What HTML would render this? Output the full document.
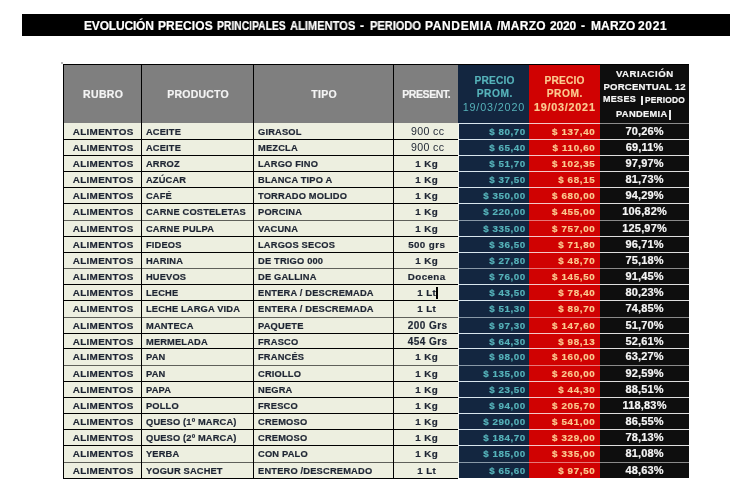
<!DOCTYPE html><html><head><meta charset="utf-8"><style>
*{margin:0;padding:0;box-sizing:border-box}
html,body{width:752px;height:499px;background:#fff;overflow:hidden}
body{position:relative;font-family:"Liberation Sans",sans-serif}
.a{position:absolute}
.t{position:absolute;white-space:nowrap;line-height:1;will-change:transform}
.b{font-weight:bold;-webkit-text-stroke:0.2px currentColor}
.c{text-align:center}
.r{text-align:right}

</style></head><body>
<div class="a" style="left:22px;top:14px;width:708px;height:22px;background:#000"></div>
<div class="t b" style="left:83.99px;top:19.69px;font-size:12px;color:#fff;letter-spacing:-0.178px">EVOLUCIÓN</div>
<div class="t b" style="left:158.19px;top:19.69px;font-size:12px;color:#fff;letter-spacing:0.110px">PRECIOS</div>
<div class="t b" style="left:217.10px;top:19.69px;font-size:12px;color:#fff;transform:scaleX(0.8610);transform-origin:0 0">PRINCIPALES</div>
<div class="t b" style="left:289.72px;top:19.69px;font-size:12px;color:#fff;transform:scaleX(0.9270);transform-origin:0 0">ALIMENTOS</div>
<div class="t b" style="left:359.52px;top:19.69px;font-size:12px;color:#fff;letter-spacing:0.000px">-</div>
<div class="t b" style="left:369.75px;top:19.69px;font-size:12px;color:#fff;transform:scaleX(0.9217);transform-origin:0 0">PERIODO</div>
<div class="t b" style="left:424.59px;top:19.69px;font-size:12px;color:#fff;letter-spacing:0.631px">PANDEMIA</div>
<div class="t b" style="left:496.98px;top:19.69px;font-size:12px;color:#fff;letter-spacing:0.244px">/MARZO</div>
<div class="t b" style="left:549.88px;top:19.69px;font-size:12px;color:#fff;letter-spacing:-0.157px">2020</div>
<div class="t b" style="left:581.02px;top:19.69px;font-size:12px;color:#fff;letter-spacing:0.000px">-</div>
<div class="t b" style="left:590.59px;top:19.69px;font-size:12px;color:#fff;letter-spacing:0.110px">MARZO</div>
<div class="t b" style="left:638.08px;top:19.69px;font-size:12px;color:#fff;letter-spacing:0.660px">2021</div>
<div class="a" style="left:63px;top:64px;width:395px;height:59px;background:#7F7F7F"></div>
<div class="a" style="left:63px;top:123px;width:395px;height:355px;background:#EDEFE0"></div>
<div class="a" style="left:458px;top:64px;width:71px;height:414px;background:#132640"></div>
<div class="a" style="left:529px;top:64px;width:71px;height:414px;background:#D00202"></div>
<div class="a" style="left:600px;top:64px;width:89px;height:414px;background:#0E0E0E"></div>
<div class="a" style="left:459px;top:123px;width:70px;height:1px;background:rgb(216,230,238)"></div>
<div class="a" style="left:529px;top:123px;width:71px;height:1px;background:rgb(246,200,200)"></div>
<div class="a" style="left:600px;top:123px;width:89px;height:1px;background:rgb(140,140,140)"></div>
<div class="a" style="left:63px;top:139px;width:395px;height:1px;background:rgb(0,0,0)"></div>
<div class="a" style="left:459px;top:139px;width:70px;height:1px;background:rgb(216,230,238)"></div>
<div class="a" style="left:529px;top:139px;width:71px;height:1px;background:rgb(246,200,200)"></div>
<div class="a" style="left:600px;top:139px;width:89px;height:1px;background:rgb(222,222,222)"></div>
<div class="a" style="left:63px;top:155px;width:395px;height:1px;background:rgb(0,0,0)"></div>
<div class="a" style="left:459px;top:155px;width:70px;height:1px;background:rgb(216,230,238)"></div>
<div class="a" style="left:529px;top:155px;width:71px;height:1px;background:rgb(246,200,200)"></div>
<div class="a" style="left:600px;top:155px;width:89px;height:1px;background:rgb(222,222,222)"></div>
<div class="a" style="left:63px;top:171px;width:395px;height:1px;background:rgb(0,0,0)"></div>
<div class="a" style="left:459px;top:171px;width:70px;height:1px;background:rgb(216,230,238)"></div>
<div class="a" style="left:529px;top:171px;width:71px;height:1px;background:rgb(246,200,200)"></div>
<div class="a" style="left:600px;top:171px;width:89px;height:1px;background:rgb(222,222,222)"></div>
<div class="a" style="left:63px;top:187px;width:395px;height:1px;background:rgb(0,0,0)"></div>
<div class="a" style="left:459px;top:187px;width:70px;height:1px;background:rgb(216,230,238)"></div>
<div class="a" style="left:529px;top:187px;width:71px;height:1px;background:rgb(246,200,200)"></div>
<div class="a" style="left:600px;top:187px;width:89px;height:1px;background:rgb(222,222,222)"></div>
<div class="a" style="left:63px;top:203px;width:395px;height:1px;background:rgb(0,0,0)"></div>
<div class="a" style="left:459px;top:203px;width:70px;height:1px;background:rgb(216,230,238)"></div>
<div class="a" style="left:529px;top:203px;width:71px;height:1px;background:rgb(246,200,200)"></div>
<div class="a" style="left:600px;top:203px;width:89px;height:1px;background:rgb(222,222,222)"></div>
<div class="a" style="left:63px;top:220px;width:395px;height:1px;background:rgba(0,0,0,0.6)"></div>
<div class="a" style="left:459px;top:220px;width:70px;height:1px;background:rgba(216,230,238,0.6)"></div>
<div class="a" style="left:529px;top:220px;width:71px;height:1px;background:rgba(246,200,200,0.6)"></div>
<div class="a" style="left:600px;top:220px;width:89px;height:1px;background:rgba(222,222,222,0.6)"></div>
<div class="a" style="left:63px;top:236px;width:395px;height:1px;background:rgb(0,0,0)"></div>
<div class="a" style="left:459px;top:236px;width:70px;height:1px;background:rgb(216,230,238)"></div>
<div class="a" style="left:529px;top:236px;width:71px;height:1px;background:rgb(246,200,200)"></div>
<div class="a" style="left:600px;top:236px;width:89px;height:1px;background:rgb(222,222,222)"></div>
<div class="a" style="left:63px;top:252px;width:395px;height:1px;background:rgb(0,0,0)"></div>
<div class="a" style="left:459px;top:252px;width:70px;height:1px;background:rgb(216,230,238)"></div>
<div class="a" style="left:529px;top:252px;width:71px;height:1px;background:rgb(246,200,200)"></div>
<div class="a" style="left:600px;top:252px;width:89px;height:1px;background:rgb(222,222,222)"></div>
<div class="a" style="left:63px;top:268px;width:395px;height:1px;background:rgba(0,0,0,0.6)"></div>
<div class="a" style="left:459px;top:268px;width:70px;height:1px;background:rgba(216,230,238,0.6)"></div>
<div class="a" style="left:529px;top:268px;width:71px;height:1px;background:rgba(246,200,200,0.6)"></div>
<div class="a" style="left:600px;top:268px;width:89px;height:1px;background:rgba(222,222,222,0.6)"></div>
<div class="a" style="left:63px;top:284px;width:395px;height:1px;background:rgb(0,0,0)"></div>
<div class="a" style="left:459px;top:284px;width:70px;height:1px;background:rgb(216,230,238)"></div>
<div class="a" style="left:529px;top:284px;width:71px;height:1px;background:rgb(246,200,200)"></div>
<div class="a" style="left:600px;top:284px;width:89px;height:1px;background:rgb(222,222,222)"></div>
<div class="a" style="left:63px;top:300px;width:395px;height:1px;background:rgb(0,0,0)"></div>
<div class="a" style="left:459px;top:300px;width:70px;height:1px;background:rgb(216,230,238)"></div>
<div class="a" style="left:529px;top:300px;width:71px;height:1px;background:rgb(246,200,200)"></div>
<div class="a" style="left:600px;top:300px;width:89px;height:1px;background:rgb(222,222,222)"></div>
<div class="a" style="left:63px;top:317px;width:395px;height:1px;background:rgba(0,0,0,0.6)"></div>
<div class="a" style="left:459px;top:317px;width:70px;height:1px;background:rgba(216,230,238,0.6)"></div>
<div class="a" style="left:529px;top:317px;width:71px;height:1px;background:rgba(246,200,200,0.6)"></div>
<div class="a" style="left:600px;top:317px;width:89px;height:1px;background:rgba(222,222,222,0.6)"></div>
<div class="a" style="left:63px;top:333px;width:395px;height:1px;background:rgb(0,0,0)"></div>
<div class="a" style="left:459px;top:333px;width:70px;height:1px;background:rgb(216,230,238)"></div>
<div class="a" style="left:529px;top:333px;width:71px;height:1px;background:rgb(246,200,200)"></div>
<div class="a" style="left:600px;top:333px;width:89px;height:1px;background:rgb(222,222,222)"></div>
<div class="a" style="left:63px;top:348px;width:395px;height:1px;background:rgb(0,0,0)"></div>
<div class="a" style="left:459px;top:348px;width:70px;height:1px;background:rgb(216,230,238)"></div>
<div class="a" style="left:529px;top:348px;width:71px;height:1px;background:rgb(246,200,200)"></div>
<div class="a" style="left:600px;top:348px;width:89px;height:1px;background:rgb(222,222,222)"></div>
<div class="a" style="left:63px;top:365px;width:395px;height:1px;background:rgba(0,0,0,0.6)"></div>
<div class="a" style="left:459px;top:365px;width:70px;height:1px;background:rgba(216,230,238,0.6)"></div>
<div class="a" style="left:529px;top:365px;width:71px;height:1px;background:rgba(246,200,200,0.6)"></div>
<div class="a" style="left:600px;top:365px;width:89px;height:1px;background:rgba(222,222,222,0.6)"></div>
<div class="a" style="left:63px;top:381px;width:395px;height:1px;background:rgb(0,0,0)"></div>
<div class="a" style="left:459px;top:381px;width:70px;height:1px;background:rgb(216,230,238)"></div>
<div class="a" style="left:529px;top:381px;width:71px;height:1px;background:rgb(246,200,200)"></div>
<div class="a" style="left:600px;top:381px;width:89px;height:1px;background:rgb(222,222,222)"></div>
<div class="a" style="left:63px;top:397px;width:395px;height:1px;background:rgb(0,0,0)"></div>
<div class="a" style="left:459px;top:397px;width:70px;height:1px;background:rgb(216,230,238)"></div>
<div class="a" style="left:529px;top:397px;width:71px;height:1px;background:rgb(246,200,200)"></div>
<div class="a" style="left:600px;top:397px;width:89px;height:1px;background:rgb(222,222,222)"></div>
<div class="a" style="left:63px;top:413px;width:395px;height:1px;background:rgb(0,0,0)"></div>
<div class="a" style="left:459px;top:413px;width:70px;height:1px;background:rgb(216,230,238)"></div>
<div class="a" style="left:529px;top:413px;width:71px;height:1px;background:rgb(246,200,200)"></div>
<div class="a" style="left:600px;top:413px;width:89px;height:1px;background:rgb(222,222,222)"></div>
<div class="a" style="left:63px;top:429px;width:395px;height:1px;background:rgb(0,0,0)"></div>
<div class="a" style="left:459px;top:429px;width:70px;height:1px;background:rgb(216,230,238)"></div>
<div class="a" style="left:529px;top:429px;width:71px;height:1px;background:rgb(246,200,200)"></div>
<div class="a" style="left:600px;top:429px;width:89px;height:1px;background:rgb(222,222,222)"></div>
<div class="a" style="left:63px;top:445px;width:395px;height:1px;background:rgb(0,0,0)"></div>
<div class="a" style="left:459px;top:445px;width:70px;height:1px;background:rgb(216,230,238)"></div>
<div class="a" style="left:529px;top:445px;width:71px;height:1px;background:rgb(246,200,200)"></div>
<div class="a" style="left:600px;top:445px;width:89px;height:1px;background:rgb(222,222,222)"></div>
<div class="a" style="left:63px;top:462px;width:395px;height:1px;background:rgba(0,0,0,0.6)"></div>
<div class="a" style="left:459px;top:462px;width:70px;height:1px;background:rgba(216,230,238,0.6)"></div>
<div class="a" style="left:529px;top:462px;width:71px;height:1px;background:rgba(246,200,200,0.6)"></div>
<div class="a" style="left:600px;top:462px;width:89px;height:1px;background:rgba(222,222,222,0.6)"></div>
<div class="a" style="left:63px;top:478px;width:395px;height:1px;background:rgb(0,0,0)"></div>
<div class="a" style="left:63px;top:64px;width:626px;height:1px;background:#000"></div>
<div class="a" style="left:63px;top:64px;width:1px;height:415px;background:#000"></div>
<div class="a" style="left:141px;top:64px;width:1px;height:415px;background:#000"></div>
<div class="a" style="left:253px;top:64px;width:1px;height:415px;background:#000"></div>
<div class="a" style="left:393px;top:64px;width:1px;height:415px;background:#000"></div>
<div class="a" style="left:458px;top:123px;width:1px;height:355px;background:#f4f6f0"></div>
<div class="t b c" style="top:89.31px;font-size:10.5px;color:#f4f4f4;letter-spacing:0.35px;left:64.2px;width:77.99999999999999px;text-indent:0.35px;">RUBRO</div>
<div class="t b c" style="top:89.31px;font-size:10.5px;color:#f4f4f4;letter-spacing:0.2px;left:142.3px;width:112.0px;text-indent:0.2px;">PRODUCTO</div>
<div class="t b c" style="top:89.31px;font-size:10.5px;color:#f4f4f4;letter-spacing:0.35px;left:254.3px;width:140.0px;text-indent:0.35px;">TIPO</div>
<div class="t b c" style="top:89.31px;font-size:10.5px;color:#f4f4f4;letter-spacing:-0.4px;left:394.3px;width:65.0px;text-indent:-0.4px;">PRESENT.</div>
<div class="t b c" style="top:75.97px;font-size:10.2px;color:#56B3BA;letter-spacing:0.2px;left:458.5px;width:71.0px;text-indent:0.2px;">PRECIO</div>
<div class="t b c" style="top:75.97px;font-size:10.2px;color:#FBCA90;letter-spacing:0.2px;left:529.3px;width:71.0px;text-indent:0.2px;">PRECIO</div>
<div class="t b c" style="top:89.37px;font-size:10.2px;color:#56B3BA;letter-spacing:0.55px;left:458.5px;width:71.0px;text-indent:0.55px;">PROM.</div>
<div class="t b c" style="top:89.37px;font-size:10.2px;color:#FBCA90;letter-spacing:0.55px;left:529.3px;width:71.0px;text-indent:0.55px;">PROM.</div>
<div class="t c" style="top:102.16px;font-size:10.8px;color:#56B3BA;letter-spacing:0.85px;left:458px;width:71px;text-indent:0.85px;">19/03/2020</div>
<div class="t b c" style="top:102.16px;font-size:10.8px;color:#FBCA90;letter-spacing:0.75px;left:528.7px;width:71.0px;text-indent:0.75px;">19/03/2021</div>
<div class="t b c" style="top:68.87px;font-size:9.6px;color:#f6f6f6;letter-spacing:0.5px;left:600px;width:89px;text-indent:0.5px;">VARIACIÓN</div>
<div class="t b c" style="top:81.97px;font-size:9.6px;color:#f6f6f6;letter-spacing:0.2px;left:600px;width:89px;text-indent:0.2px;">PORCENTUAL 12</div>
<div class="t b" style="top:95.18px;font-size:9px;color:#f6f6f6;letter-spacing:0.3px;left:603.0px;">MESES</div>
<div class="a" style="left:641px;top:95.6px;width:1.5px;height:9.6px;background:#e8e8e8"></div>
<div class="t b" style="top:95.69px;font-size:8.4px;color:#f6f6f6;letter-spacing:0.2px;left:645.0px;">PERIODO</div>
<div class="t b" style="top:109.53px;font-size:9.3px;color:#f6f6f6;letter-spacing:0.33px;left:616.2px;">PANDEMIA</div>
<div class="a" style="left:668.8px;top:109.6px;width:1.8px;height:10px;background:#e8e8e8"></div>
<div class="t b c" style="top:127.02px;font-size:9.9px;color:#1e2533;letter-spacing:0.33px;left:64.3px;width:78.00000000000001px;text-indent:0.33px;">ALIMENTOS</div>
<div class="t b" style="top:127.53px;font-size:9.3px;color:#1e2533;letter-spacing:0.15px;left:146px;">ACEITE</div>
<div class="t b" style="top:127.53px;font-size:9.3px;color:#1e2533;letter-spacing:0.18px;left:257.9px;">GIRASOL</div>
<div class="t c" style="top:126.43px;font-size:10.6px;color:#1e2533;letter-spacing:0.35px;left:394.5px;width:65.0px;text-indent:0.35px;">900 cc</div>
<div class="t b r" style="top:127.10px;font-size:9.8px;color:#56B3BA;letter-spacing:0.55px;left:458px;width:67.8px;margin-right:-0.55px;">$ 80,70</div>
<div class="t b r" style="top:127.10px;font-size:9.8px;color:#FBCA90;letter-spacing:0.65px;left:529px;width:66.4px;margin-right:-0.65px;">$ 137,40</div>
<div class="t b c" style="top:126.29px;font-size:11px;color:#f6f6f6;letter-spacing:0.18px;left:600px;width:89px;text-indent:0.18px;">70,26%</div>
<div class="t b c" style="top:143.02px;font-size:9.9px;color:#1e2533;letter-spacing:0.33px;left:64.3px;width:78.00000000000001px;text-indent:0.33px;">ALIMENTOS</div>
<div class="t b" style="top:143.53px;font-size:9.3px;color:#1e2533;letter-spacing:0.15px;left:146px;">ACEITE</div>
<div class="t b" style="top:143.53px;font-size:9.3px;color:#1e2533;letter-spacing:0.18px;left:257.9px;">MEZCLA</div>
<div class="t c" style="top:142.43px;font-size:10.6px;color:#1e2533;letter-spacing:0.35px;left:394.5px;width:65.0px;text-indent:0.35px;">900 cc</div>
<div class="t b r" style="top:143.10px;font-size:9.8px;color:#56B3BA;letter-spacing:0.55px;left:458px;width:67.8px;margin-right:-0.55px;">$ 65,40</div>
<div class="t b r" style="top:143.10px;font-size:9.8px;color:#FBCA90;letter-spacing:0.65px;left:529px;width:66.4px;margin-right:-0.65px;">$ 110,60</div>
<div class="t b c" style="top:142.29px;font-size:11px;color:#f6f6f6;letter-spacing:0.18px;left:600px;width:89px;text-indent:0.18px;">69,11%</div>
<div class="t b c" style="top:159.02px;font-size:9.9px;color:#1e2533;letter-spacing:0.33px;left:64.3px;width:78.00000000000001px;text-indent:0.33px;">ALIMENTOS</div>
<div class="t b" style="top:159.53px;font-size:9.3px;color:#1e2533;letter-spacing:0.15px;left:146px;">ARROZ</div>
<div class="t b" style="top:159.53px;font-size:9.3px;color:#1e2533;letter-spacing:0.18px;left:257.9px;">LARGO FINO</div>
<div class="t b c" style="top:159.10px;font-size:9.8px;color:#1e2533;letter-spacing:0.4px;left:394px;width:65px;text-indent:0.4px;">1 Kg</div>
<div class="t b r" style="top:159.10px;font-size:9.8px;color:#56B3BA;letter-spacing:0.55px;left:458px;width:67.8px;margin-right:-0.55px;">$ 51,70</div>
<div class="t b r" style="top:159.10px;font-size:9.8px;color:#FBCA90;letter-spacing:0.65px;left:529px;width:66.4px;margin-right:-0.65px;">$ 102,35</div>
<div class="t b c" style="top:158.29px;font-size:11px;color:#f6f6f6;letter-spacing:0.18px;left:600px;width:89px;text-indent:0.18px;">97,97%</div>
<div class="t b c" style="top:175.02px;font-size:9.9px;color:#1e2533;letter-spacing:0.33px;left:64.3px;width:78.00000000000001px;text-indent:0.33px;">ALIMENTOS</div>
<div class="t b" style="top:175.53px;font-size:9.3px;color:#1e2533;letter-spacing:0.15px;left:146px;">AZÚCAR</div>
<div class="t b" style="top:175.53px;font-size:9.3px;color:#1e2533;letter-spacing:0.18px;left:257.9px;">BLANCA TIPO A</div>
<div class="t b c" style="top:175.10px;font-size:9.8px;color:#1e2533;letter-spacing:0.4px;left:394px;width:65px;text-indent:0.4px;">1 Kg</div>
<div class="t b r" style="top:175.10px;font-size:9.8px;color:#56B3BA;letter-spacing:0.55px;left:458px;width:67.8px;margin-right:-0.55px;">$ 37,50</div>
<div class="t b r" style="top:175.10px;font-size:9.8px;color:#FBCA90;letter-spacing:0.65px;left:529px;width:66.4px;margin-right:-0.65px;">$ 68,15</div>
<div class="t b c" style="top:174.29px;font-size:11px;color:#f6f6f6;letter-spacing:0.18px;left:600px;width:89px;text-indent:0.18px;">81,73%</div>
<div class="t b c" style="top:191.02px;font-size:9.9px;color:#1e2533;letter-spacing:0.33px;left:64.3px;width:78.00000000000001px;text-indent:0.33px;">ALIMENTOS</div>
<div class="t b" style="top:191.53px;font-size:9.3px;color:#1e2533;letter-spacing:0.15px;left:146px;">CAFÉ</div>
<div class="t b" style="top:191.53px;font-size:9.3px;color:#1e2533;letter-spacing:0.18px;left:257.9px;">TORRADO MOLIDO</div>
<div class="t b c" style="top:191.10px;font-size:9.8px;color:#1e2533;letter-spacing:0.4px;left:394px;width:65px;text-indent:0.4px;">1 Kg</div>
<div class="t b r" style="top:191.10px;font-size:9.8px;color:#56B3BA;letter-spacing:0.55px;left:458px;width:67.8px;margin-right:-0.55px;">$ 350,00</div>
<div class="t b r" style="top:191.10px;font-size:9.8px;color:#FBCA90;letter-spacing:0.65px;left:529px;width:66.4px;margin-right:-0.65px;">$ 680,00</div>
<div class="t b c" style="top:190.29px;font-size:11px;color:#f6f6f6;letter-spacing:0.18px;left:600px;width:89px;text-indent:0.18px;">94,29%</div>
<div class="t b c" style="top:207.02px;font-size:9.9px;color:#1e2533;letter-spacing:0.33px;left:64.3px;width:78.00000000000001px;text-indent:0.33px;">ALIMENTOS</div>
<div class="t b" style="top:207.53px;font-size:9.3px;color:#1e2533;letter-spacing:0.15px;left:146px;">CARNE COSTELETAS</div>
<div class="t b" style="top:207.53px;font-size:9.3px;color:#1e2533;letter-spacing:0.18px;left:257.9px;">PORCINA</div>
<div class="t b c" style="top:207.10px;font-size:9.8px;color:#1e2533;letter-spacing:0.4px;left:394px;width:65px;text-indent:0.4px;">1 Kg</div>
<div class="t b r" style="top:207.10px;font-size:9.8px;color:#56B3BA;letter-spacing:0.55px;left:458px;width:67.8px;margin-right:-0.55px;">$ 220,00</div>
<div class="t b r" style="top:207.10px;font-size:9.8px;color:#FBCA90;letter-spacing:0.65px;left:529px;width:66.4px;margin-right:-0.65px;">$ 455,00</div>
<div class="t b c" style="top:206.29px;font-size:11px;color:#f6f6f6;letter-spacing:0.18px;left:600px;width:89px;text-indent:0.18px;">106,82%</div>
<div class="t b c" style="top:224.02px;font-size:9.9px;color:#1e2533;letter-spacing:0.33px;left:64.3px;width:78.00000000000001px;text-indent:0.33px;">ALIMENTOS</div>
<div class="t b" style="top:224.53px;font-size:9.3px;color:#1e2533;letter-spacing:0.15px;left:146px;">CARNE PULPA</div>
<div class="t b" style="top:224.53px;font-size:9.3px;color:#1e2533;letter-spacing:0.18px;left:257.9px;">VACUNA</div>
<div class="t b c" style="top:224.10px;font-size:9.8px;color:#1e2533;letter-spacing:0.4px;left:394px;width:65px;text-indent:0.4px;">1 Kg</div>
<div class="t b r" style="top:224.10px;font-size:9.8px;color:#56B3BA;letter-spacing:0.55px;left:458px;width:67.8px;margin-right:-0.55px;">$ 335,00</div>
<div class="t b r" style="top:224.10px;font-size:9.8px;color:#FBCA90;letter-spacing:0.65px;left:529px;width:66.4px;margin-right:-0.65px;">$ 757,00</div>
<div class="t b c" style="top:223.29px;font-size:11px;color:#f6f6f6;letter-spacing:0.18px;left:600px;width:89px;text-indent:0.18px;">125,97%</div>
<div class="t b c" style="top:240.02px;font-size:9.9px;color:#1e2533;letter-spacing:0.33px;left:64.3px;width:78.00000000000001px;text-indent:0.33px;">ALIMENTOS</div>
<div class="t b" style="top:240.53px;font-size:9.3px;color:#1e2533;letter-spacing:0.15px;left:146px;">FIDEOS</div>
<div class="t b" style="top:240.53px;font-size:9.3px;color:#1e2533;letter-spacing:0.18px;left:257.9px;">LARGOS SECOS</div>
<div class="t b c" style="top:240.10px;font-size:9.8px;color:#1e2533;letter-spacing:0.4px;left:394px;width:65px;text-indent:0.4px;">500 grs</div>
<div class="t b r" style="top:240.10px;font-size:9.8px;color:#56B3BA;letter-spacing:0.55px;left:458px;width:67.8px;margin-right:-0.55px;">$ 36,50</div>
<div class="t b r" style="top:240.10px;font-size:9.8px;color:#FBCA90;letter-spacing:0.65px;left:529px;width:66.4px;margin-right:-0.65px;">$ 71,80</div>
<div class="t b c" style="top:239.29px;font-size:11px;color:#f6f6f6;letter-spacing:0.18px;left:600px;width:89px;text-indent:0.18px;">96,71%</div>
<div class="t b c" style="top:256.02px;font-size:9.9px;color:#1e2533;letter-spacing:0.33px;left:64.3px;width:78.00000000000001px;text-indent:0.33px;">ALIMENTOS</div>
<div class="t b" style="top:256.53px;font-size:9.3px;color:#1e2533;letter-spacing:0.15px;left:146px;">HARINA</div>
<div class="t b" style="top:256.53px;font-size:9.3px;color:#1e2533;letter-spacing:0.18px;left:257.9px;">DE TRIGO 000</div>
<div class="t b c" style="top:256.10px;font-size:9.8px;color:#1e2533;letter-spacing:0.4px;left:394px;width:65px;text-indent:0.4px;">1 Kg</div>
<div class="t b r" style="top:256.10px;font-size:9.8px;color:#56B3BA;letter-spacing:0.55px;left:458px;width:67.8px;margin-right:-0.55px;">$ 27,80</div>
<div class="t b r" style="top:256.10px;font-size:9.8px;color:#FBCA90;letter-spacing:0.65px;left:529px;width:66.4px;margin-right:-0.65px;">$ 48,70</div>
<div class="t b c" style="top:255.29px;font-size:11px;color:#f6f6f6;letter-spacing:0.18px;left:600px;width:89px;text-indent:0.18px;">75,18%</div>
<div class="t b c" style="top:272.02px;font-size:9.9px;color:#1e2533;letter-spacing:0.33px;left:64.3px;width:78.00000000000001px;text-indent:0.33px;">ALIMENTOS</div>
<div class="t b" style="top:272.53px;font-size:9.3px;color:#1e2533;letter-spacing:0.15px;left:146px;">HUEVOS</div>
<div class="t b" style="top:272.53px;font-size:9.3px;color:#1e2533;letter-spacing:0.18px;left:257.9px;">DE GALLINA</div>
<div class="t b c" style="top:272.10px;font-size:9.8px;color:#1e2533;letter-spacing:0.4px;left:394px;width:65px;text-indent:0.4px;">Docena</div>
<div class="t b r" style="top:272.10px;font-size:9.8px;color:#56B3BA;letter-spacing:0.55px;left:458px;width:67.8px;margin-right:-0.55px;">$ 76,00</div>
<div class="t b r" style="top:272.10px;font-size:9.8px;color:#FBCA90;letter-spacing:0.65px;left:529px;width:66.4px;margin-right:-0.65px;">$ 145,50</div>
<div class="t b c" style="top:271.29px;font-size:11px;color:#f6f6f6;letter-spacing:0.18px;left:600px;width:89px;text-indent:0.18px;">91,45%</div>
<div class="t b c" style="top:288.02px;font-size:9.9px;color:#1e2533;letter-spacing:0.33px;left:64.3px;width:78.00000000000001px;text-indent:0.33px;">ALIMENTOS</div>
<div class="t b" style="top:288.53px;font-size:9.3px;color:#1e2533;letter-spacing:0.15px;left:146px;">LECHE</div>
<div class="t b" style="top:288.53px;font-size:9.3px;color:#1e2533;letter-spacing:0.18px;left:257.9px;">ENTERA / DESCREMADA</div>
<div class="t b c" style="top:288.10px;font-size:9.8px;color:#1e2533;letter-spacing:0.4px;left:394px;width:65px;text-indent:0.4px;">1 Lt</div>
<div class="t b r" style="top:288.10px;font-size:9.8px;color:#56B3BA;letter-spacing:0.55px;left:458px;width:67.8px;margin-right:-0.55px;">$ 43,50</div>
<div class="t b r" style="top:288.10px;font-size:9.8px;color:#FBCA90;letter-spacing:0.65px;left:529px;width:66.4px;margin-right:-0.65px;">$ 78,40</div>
<div class="t b c" style="top:287.29px;font-size:11px;color:#f6f6f6;letter-spacing:0.18px;left:600px;width:89px;text-indent:0.18px;">80,23%</div>
<div class="t b c" style="top:304.02px;font-size:9.9px;color:#1e2533;letter-spacing:0.33px;left:64.3px;width:78.00000000000001px;text-indent:0.33px;">ALIMENTOS</div>
<div class="t b" style="top:304.53px;font-size:9.3px;color:#1e2533;letter-spacing:0.15px;left:146px;">LECHE LARGA VIDA</div>
<div class="t b" style="top:304.53px;font-size:9.3px;color:#1e2533;letter-spacing:0.18px;left:257.9px;">ENTERA / DESCREMADA</div>
<div class="t b c" style="top:304.10px;font-size:9.8px;color:#1e2533;letter-spacing:0.4px;left:394px;width:65px;text-indent:0.4px;">1 Lt</div>
<div class="t b r" style="top:304.10px;font-size:9.8px;color:#56B3BA;letter-spacing:0.55px;left:458px;width:67.8px;margin-right:-0.55px;">$ 51,30</div>
<div class="t b r" style="top:304.10px;font-size:9.8px;color:#FBCA90;letter-spacing:0.65px;left:529px;width:66.4px;margin-right:-0.65px;">$ 89,70</div>
<div class="t b c" style="top:303.29px;font-size:11px;color:#f6f6f6;letter-spacing:0.18px;left:600px;width:89px;text-indent:0.18px;">74,85%</div>
<div class="t b c" style="top:321.02px;font-size:9.9px;color:#1e2533;letter-spacing:0.33px;left:64.3px;width:78.00000000000001px;text-indent:0.33px;">ALIMENTOS</div>
<div class="t b" style="top:321.53px;font-size:9.3px;color:#1e2533;letter-spacing:0.15px;left:146px;">MANTECA</div>
<div class="t b" style="top:321.53px;font-size:9.3px;color:#1e2533;letter-spacing:0.18px;left:257.9px;">PAQUETE</div>
<div class="t b c" style="top:320.94px;font-size:10px;color:#1e2533;letter-spacing:0.45px;left:394.6px;width:65.0px;text-indent:0.45px;">200 Grs</div>
<div class="t b r" style="top:321.10px;font-size:9.8px;color:#56B3BA;letter-spacing:0.55px;left:458px;width:67.8px;margin-right:-0.55px;">$ 97,30</div>
<div class="t b r" style="top:321.10px;font-size:9.8px;color:#FBCA90;letter-spacing:0.65px;left:529px;width:66.4px;margin-right:-0.65px;">$ 147,60</div>
<div class="t b c" style="top:320.29px;font-size:11px;color:#f6f6f6;letter-spacing:0.18px;left:600px;width:89px;text-indent:0.18px;">51,70%</div>
<div class="t b c" style="top:337.02px;font-size:9.9px;color:#1e2533;letter-spacing:0.33px;left:64.3px;width:78.00000000000001px;text-indent:0.33px;">ALIMENTOS</div>
<div class="t b" style="top:337.53px;font-size:9.3px;color:#1e2533;letter-spacing:0.15px;left:146px;">MERMELADA</div>
<div class="t b" style="top:337.53px;font-size:9.3px;color:#1e2533;letter-spacing:0.18px;left:257.9px;">FRASCO</div>
<div class="t b c" style="top:336.94px;font-size:10px;color:#1e2533;letter-spacing:0.45px;left:394.6px;width:65.0px;text-indent:0.45px;">454 Grs</div>
<div class="t b r" style="top:337.10px;font-size:9.8px;color:#56B3BA;letter-spacing:0.55px;left:458px;width:67.8px;margin-right:-0.55px;">$ 64,30</div>
<div class="t b r" style="top:337.10px;font-size:9.8px;color:#FBCA90;letter-spacing:0.65px;left:529px;width:66.4px;margin-right:-0.65px;">$ 98,13</div>
<div class="t b c" style="top:336.29px;font-size:11px;color:#f6f6f6;letter-spacing:0.18px;left:600px;width:89px;text-indent:0.18px;">52,61%</div>
<div class="t b c" style="top:352.02px;font-size:9.9px;color:#1e2533;letter-spacing:0.33px;left:64.3px;width:78.00000000000001px;text-indent:0.33px;">ALIMENTOS</div>
<div class="t b" style="top:352.53px;font-size:9.3px;color:#1e2533;letter-spacing:0.15px;left:146px;">PAN</div>
<div class="t b" style="top:352.53px;font-size:9.3px;color:#1e2533;letter-spacing:0.18px;left:257.9px;">FRANCÉS</div>
<div class="t b c" style="top:352.10px;font-size:9.8px;color:#1e2533;letter-spacing:0.4px;left:394px;width:65px;text-indent:0.4px;">1 Kg</div>
<div class="t b r" style="top:352.10px;font-size:9.8px;color:#56B3BA;letter-spacing:0.55px;left:458px;width:67.8px;margin-right:-0.55px;">$ 98,00</div>
<div class="t b r" style="top:352.10px;font-size:9.8px;color:#FBCA90;letter-spacing:0.65px;left:529px;width:66.4px;margin-right:-0.65px;">$ 160,00</div>
<div class="t b c" style="top:351.29px;font-size:11px;color:#f6f6f6;letter-spacing:0.18px;left:600px;width:89px;text-indent:0.18px;">63,27%</div>
<div class="t b c" style="top:369.02px;font-size:9.9px;color:#1e2533;letter-spacing:0.33px;left:64.3px;width:78.00000000000001px;text-indent:0.33px;">ALIMENTOS</div>
<div class="t b" style="top:369.53px;font-size:9.3px;color:#1e2533;letter-spacing:0.15px;left:146px;">PAN</div>
<div class="t b" style="top:369.53px;font-size:9.3px;color:#1e2533;letter-spacing:0.18px;left:257.9px;">CRIOLLO</div>
<div class="t b c" style="top:369.10px;font-size:9.8px;color:#1e2533;letter-spacing:0.4px;left:394px;width:65px;text-indent:0.4px;">1 Kg</div>
<div class="t b r" style="top:369.10px;font-size:9.8px;color:#56B3BA;letter-spacing:0.55px;left:458px;width:67.8px;margin-right:-0.55px;">$ 135,00</div>
<div class="t b r" style="top:369.10px;font-size:9.8px;color:#FBCA90;letter-spacing:0.65px;left:529px;width:66.4px;margin-right:-0.65px;">$ 260,00</div>
<div class="t b c" style="top:368.29px;font-size:11px;color:#f6f6f6;letter-spacing:0.18px;left:600px;width:89px;text-indent:0.18px;">92,59%</div>
<div class="t b c" style="top:385.02px;font-size:9.9px;color:#1e2533;letter-spacing:0.33px;left:64.3px;width:78.00000000000001px;text-indent:0.33px;">ALIMENTOS</div>
<div class="t b" style="top:385.53px;font-size:9.3px;color:#1e2533;letter-spacing:0.15px;left:146px;">PAPA</div>
<div class="t b" style="top:385.53px;font-size:9.3px;color:#1e2533;letter-spacing:0.18px;left:257.9px;">NEGRA</div>
<div class="t b c" style="top:385.10px;font-size:9.8px;color:#1e2533;letter-spacing:0.4px;left:394px;width:65px;text-indent:0.4px;">1 Kg</div>
<div class="t b r" style="top:385.10px;font-size:9.8px;color:#56B3BA;letter-spacing:0.55px;left:458px;width:67.8px;margin-right:-0.55px;">$ 23,50</div>
<div class="t b r" style="top:385.10px;font-size:9.8px;color:#FBCA90;letter-spacing:0.65px;left:529px;width:66.4px;margin-right:-0.65px;">$ 44,30</div>
<div class="t b c" style="top:384.29px;font-size:11px;color:#f6f6f6;letter-spacing:0.18px;left:600px;width:89px;text-indent:0.18px;">88,51%</div>
<div class="t b c" style="top:401.02px;font-size:9.9px;color:#1e2533;letter-spacing:0.33px;left:64.3px;width:78.00000000000001px;text-indent:0.33px;">ALIMENTOS</div>
<div class="t b" style="top:401.53px;font-size:9.3px;color:#1e2533;letter-spacing:0.15px;left:146px;">POLLO</div>
<div class="t b" style="top:401.53px;font-size:9.3px;color:#1e2533;letter-spacing:0.18px;left:257.9px;">FRESCO</div>
<div class="t b c" style="top:401.10px;font-size:9.8px;color:#1e2533;letter-spacing:0.4px;left:394px;width:65px;text-indent:0.4px;">1 Kg</div>
<div class="t b r" style="top:401.10px;font-size:9.8px;color:#56B3BA;letter-spacing:0.55px;left:458px;width:67.8px;margin-right:-0.55px;">$ 94,00</div>
<div class="t b r" style="top:401.10px;font-size:9.8px;color:#FBCA90;letter-spacing:0.65px;left:529px;width:66.4px;margin-right:-0.65px;">$ 205,70</div>
<div class="t b c" style="top:400.29px;font-size:11px;color:#f6f6f6;letter-spacing:0.18px;left:600px;width:89px;text-indent:0.18px;">118,83%</div>
<div class="t b c" style="top:417.02px;font-size:9.9px;color:#1e2533;letter-spacing:0.33px;left:64.3px;width:78.00000000000001px;text-indent:0.33px;">ALIMENTOS</div>
<div class="t b" style="top:417.53px;font-size:9.3px;color:#1e2533;letter-spacing:0.15px;left:146px;">QUESO (1º MARCA)</div>
<div class="t b" style="top:417.53px;font-size:9.3px;color:#1e2533;letter-spacing:0.18px;left:257.9px;">CREMOSO</div>
<div class="t b c" style="top:417.10px;font-size:9.8px;color:#1e2533;letter-spacing:0.4px;left:394px;width:65px;text-indent:0.4px;">1 Kg</div>
<div class="t b r" style="top:417.10px;font-size:9.8px;color:#56B3BA;letter-spacing:0.55px;left:458px;width:67.8px;margin-right:-0.55px;">$ 290,00</div>
<div class="t b r" style="top:417.10px;font-size:9.8px;color:#FBCA90;letter-spacing:0.65px;left:529px;width:66.4px;margin-right:-0.65px;">$ 541,00</div>
<div class="t b c" style="top:416.29px;font-size:11px;color:#f6f6f6;letter-spacing:0.18px;left:600px;width:89px;text-indent:0.18px;">86,55%</div>
<div class="t b c" style="top:433.02px;font-size:9.9px;color:#1e2533;letter-spacing:0.33px;left:64.3px;width:78.00000000000001px;text-indent:0.33px;">ALIMENTOS</div>
<div class="t b" style="top:433.53px;font-size:9.3px;color:#1e2533;letter-spacing:0.15px;left:146px;">QUESO (2º MARCA)</div>
<div class="t b" style="top:433.53px;font-size:9.3px;color:#1e2533;letter-spacing:0.18px;left:257.9px;">CREMOSO</div>
<div class="t b c" style="top:433.10px;font-size:9.8px;color:#1e2533;letter-spacing:0.4px;left:394px;width:65px;text-indent:0.4px;">1 Kg</div>
<div class="t b r" style="top:433.10px;font-size:9.8px;color:#56B3BA;letter-spacing:0.55px;left:458px;width:67.8px;margin-right:-0.55px;">$ 184,70</div>
<div class="t b r" style="top:433.10px;font-size:9.8px;color:#FBCA90;letter-spacing:0.65px;left:529px;width:66.4px;margin-right:-0.65px;">$ 329,00</div>
<div class="t b c" style="top:432.29px;font-size:11px;color:#f6f6f6;letter-spacing:0.18px;left:600px;width:89px;text-indent:0.18px;">78,13%</div>
<div class="t b c" style="top:449.02px;font-size:9.9px;color:#1e2533;letter-spacing:0.33px;left:64.3px;width:78.00000000000001px;text-indent:0.33px;">ALIMENTOS</div>
<div class="t b" style="top:449.53px;font-size:9.3px;color:#1e2533;letter-spacing:0.15px;left:146px;">YERBA</div>
<div class="t b" style="top:449.53px;font-size:9.3px;color:#1e2533;letter-spacing:0.18px;left:257.9px;">CON PALO</div>
<div class="t b c" style="top:449.10px;font-size:9.8px;color:#1e2533;letter-spacing:0.4px;left:394px;width:65px;text-indent:0.4px;">1 Kg</div>
<div class="t b r" style="top:449.10px;font-size:9.8px;color:#56B3BA;letter-spacing:0.55px;left:458px;width:67.8px;margin-right:-0.55px;">$ 185,00</div>
<div class="t b r" style="top:449.10px;font-size:9.8px;color:#FBCA90;letter-spacing:0.65px;left:529px;width:66.4px;margin-right:-0.65px;">$ 335,00</div>
<div class="t b c" style="top:448.29px;font-size:11px;color:#f6f6f6;letter-spacing:0.18px;left:600px;width:89px;text-indent:0.18px;">81,08%</div>
<div class="t b c" style="top:466.02px;font-size:9.9px;color:#1e2533;letter-spacing:0.33px;left:64.3px;width:78.00000000000001px;text-indent:0.33px;">ALIMENTOS</div>
<div class="t b" style="top:466.53px;font-size:9.3px;color:#1e2533;letter-spacing:0.15px;left:146px;">YOGUR SACHET</div>
<div class="t b" style="top:466.53px;font-size:9.3px;color:#1e2533;letter-spacing:0.18px;left:257.9px;">ENTERO /DESCREMADO</div>
<div class="t b c" style="top:466.10px;font-size:9.8px;color:#1e2533;letter-spacing:0.4px;left:394px;width:65px;text-indent:0.4px;">1 Lt</div>
<div class="t b r" style="top:466.10px;font-size:9.8px;color:#56B3BA;letter-spacing:0.55px;left:458px;width:67.8px;margin-right:-0.55px;">$ 65,60</div>
<div class="t b r" style="top:466.10px;font-size:9.8px;color:#FBCA90;letter-spacing:0.65px;left:529px;width:66.4px;margin-right:-0.65px;">$ 97,50</div>
<div class="t b c" style="top:465.29px;font-size:11px;color:#f6f6f6;letter-spacing:0.18px;left:600px;width:89px;text-indent:0.18px;">48,63%</div>
<div class="a" style="left:61px;top:62px;width:1.5px;height:2px;background:#b8b8b8"></div>
<div class="a" style="left:436px;top:287px;width:1.6px;height:12px;background:#000"></div>
</body></html>
